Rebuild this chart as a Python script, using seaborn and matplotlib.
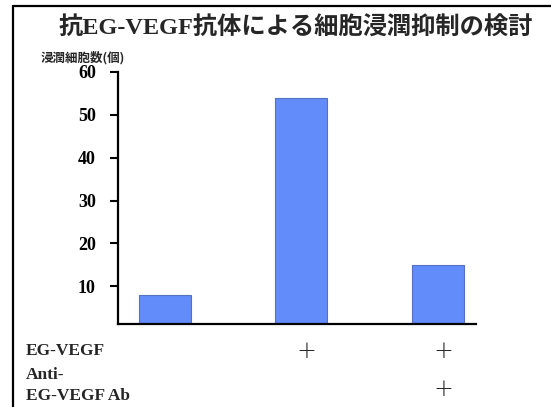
import matplotlib
matplotlib.use("Agg")
import matplotlib.pyplot as plt
from matplotlib.lines import Line2D
import seaborn as sns
import pandas as pd

# Invasion assay: invaded cell counts per condition
groups = ["control", "EG-VEGF", "EG-VEGF + Anti-EG-VEGF Ab"]
cell_counts = [8, 54, 15]
egvegf_added = ["", "+", "+"]
antibody_added = ["", "", "+"]
y_ticks = [10, 20, 30, 40, 50, 60]

title_text = "抗EG-VEGF抗体による細胞浸潤抑制の検討"
ylabel_text = "浸潤細胞数(個)"
row_labels = ["EG-VEGF", "Anti-\nEG-VEGF Ab"]

sns.set_theme(style="white")
serif_jp = ["Liberation Serif", "Noto Sans CJK JP"]
plt.rcParams["font.family"] = serif_jp

df = pd.DataFrame({"group": groups, "cells": cell_counts})

fig = plt.figure(figsize=(5.51, 4.07), dpi=100)
ax = fig.add_axes([0.2142, 0.2039, 0.8639 - 0.2142, 0.8231 - 0.2039])

sns.barplot(data=df, x="group", y="cells", color="#628CFA", saturation=1,
            width=0.38, edgecolor="#5570C0", linewidth=0.8, ax=ax)

ax.set_ylim(1.2, 60)
ax.set_xlim(-0.344, 2.28)
ax.set_yticks(y_ticks)
ax.set_yticklabels([str(t) for t in y_ticks], fontsize=13, fontweight="bold",
                   family="Liberation Serif")
ax.set_xticks([])
ax.set_xlabel("")
ax.set_ylabel("")
for side in ("top", "right"):
    ax.spines[side].set_visible(False)
for side in ("left", "bottom"):
    ax.spines[side].set_linewidth(1.6)
    ax.spines[side].set_color("black")
ax.tick_params(axis="y", direction="out", length=6, width=1.5, pad=10,
               left=True, colors="black")

# Title and y-axis caption
fig.text(0.537, 0.931, title_text, ha="center", va="center", fontsize=17.5,
         fontweight="bold", family=serif_jp)
fig.text(0.074, 0.858, ylabel_text, ha="left", va="center", fontsize=9,
         fontweight="bold", family=["Noto Sans CJK JP"])

# Condition table under the bars
fig.text(0.047, 0.1376, row_labels[0], ha="left", va="center", fontsize=12.5,
         fontweight="bold", family="Liberation Serif")
fig.text(0.047, 0.052, row_labels[1], ha="left", va="center", fontsize=12.5,
         fontweight="bold", family="Liberation Serif", linespacing=1.4)

trans = matplotlib.transforms.blended_transform_factory(ax.transData, fig.transFigure)
for i, (a, b) in enumerate(zip(egvegf_added, antibody_added)):
    if a:
        ax.text(i + 0.04, 0.1376, a, transform=trans, ha="center", va="center",
                fontsize=17, family="DejaVu Sans", fontweight="light")
    if b:
        ax.text(i + 0.04, 0.044, b, transform=trans, ha="center", va="center",
                fontsize=17, family="DejaVu Sans", fontweight="light")

# Frame lines along the top and left edges
fig.add_artist(Line2D([13 / 551, 13 / 551], [0, 1 - 6 / 407], transform=fig.transFigure,
                      color="black", linewidth=1.6))
fig.add_artist(Line2D([13 / 551, 1], [1 - 6 / 407, 1 - 6 / 407], transform=fig.transFigure,
                      color="black", linewidth=1.6))

fig.savefig("out.png", dpi=100, facecolor="white")
